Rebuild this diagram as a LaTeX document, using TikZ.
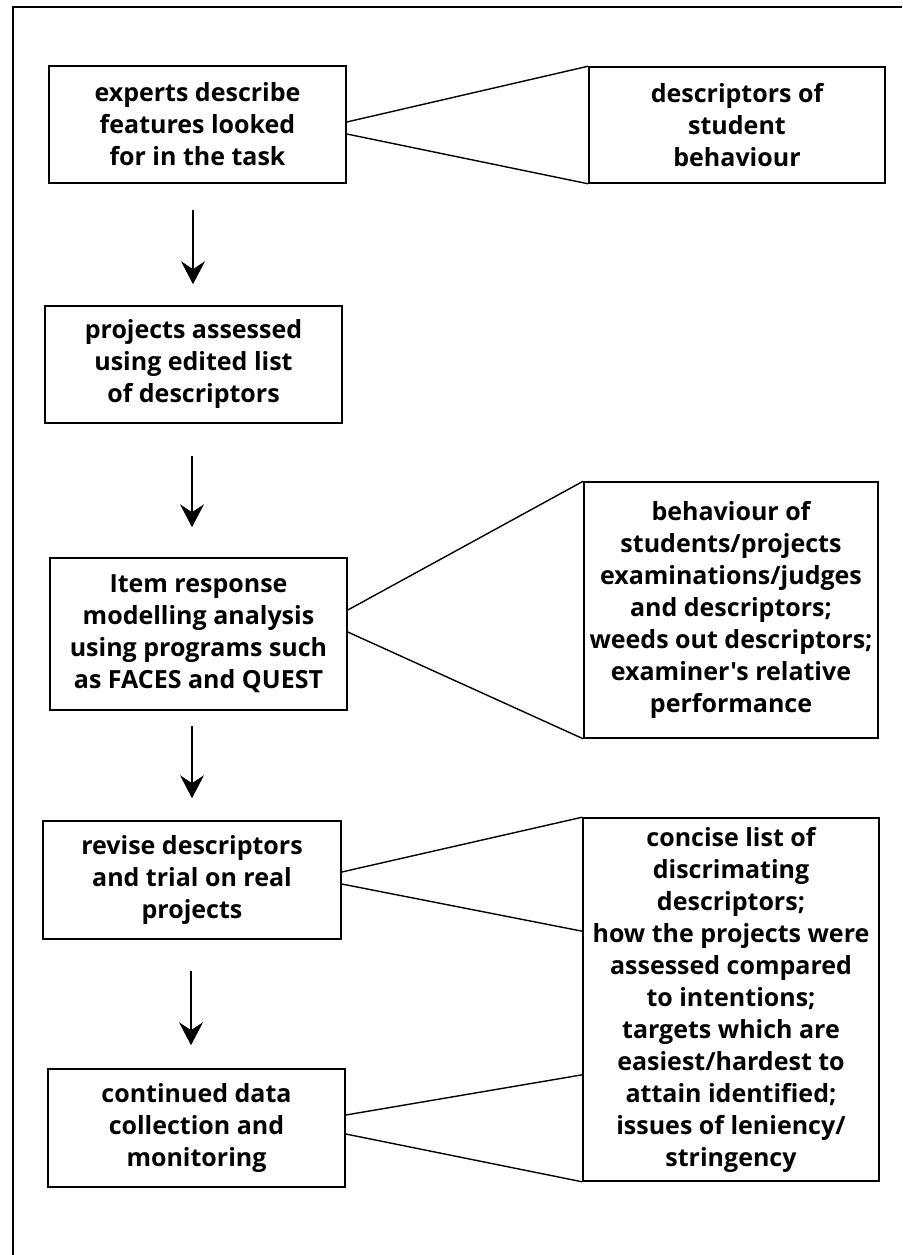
\documentclass[tikz,border=0pt]{standalone}
\usepackage{fontspec}
\setmainfont{Open Sans}[Ligatures=TeXOff]
\usetikzlibrary{calc,arrows.meta}
\begin{document}
\begin{tikzpicture}[x=1pt,y=-1pt,
  box/.style={draw=black, line width=1.6pt, align=center, inner sep=1pt,
    font=\bfseries\fontsize{25}{32}\selectfont},
  link/.style={draw=black, line width=1.4pt},
  flow/.style={draw=black, line width=1.3pt, -{Stealth[length=23pt,width=24pt,inset=8pt]}},
  frame/.style={draw=black, line width=1.8pt}]
\useasboundingbox (0,0) rectangle (902,1255);
% frame (top and left edges)
\coordinate (ftl) at (13,7);
\coordinate (ftr) at (902,7);
\coordinate (fbl) at (13,1255);
\draw[frame] (ftr) -- (ftl) -- (fbl);

% left column
\node[box, minimum width=297pt, minimum height=117pt] (b1) at (197.5,124.5)
  {experts describe\\features looked\\for in the task};
\node[box, minimum width=297pt, minimum height=117pt] (b2) at (193.5,364.5)
  {projects assessed\\using edited list\\of descriptors};
\node[box, minimum width=297pt, minimum height=152pt] (b3) at (198.5,634)
  {Item response\\modelling analysis\\using programs such\\as FACES and QUEST};
\node[box, minimum width=298pt, minimum height=118pt] (b4) at (192,880)
  {revise descriptors\\and trial on real\\projects};
\node[box, minimum width=297pt, minimum height=118pt] (b5) at (196.5,1128)
  {continued data\\collection and\\monitoring};

% right column
\node[box, minimum width=296pt, minimum height=116pt] (r1) at (737,125)
  {descriptors of\\student\\behaviour};
\node[box, minimum width=294pt, minimum height=256pt] (r3) at (731,610)
  {behaviour of\\students/projects\\examinations/judges\\and descriptors;\\weeds out descriptors;\\examiner's relative\\performance};
\node[box, minimum width=296pt, minimum height=363pt] (r4) at (731,999.5)
  {concise list of\\discrimating\\descriptors;\\how the projects were\\assessed compared\\to intentions;\\targets which are\\easiest/hardest to\\attain identified;\\issues of leniency/\\stringency};

% flow arrows
\draw[flow] ($(b1.south)+(-4.5,26)$) -- ($(b2.north)+(-0.5,-21)$);
\draw[flow] ($(b2.south)+(-1.5,32)$) -- ($(b3.north)+(-6.5,-30)$);
\draw[flow] ($(b3.south)+(-6.5,15)$) -- ($(b4.north)+(0,-22)$);
\draw[flow] ($(b4.south)+(-1,31)$) -- ($(b5.north)+(-5.5,-23)$);

% fan connectors
\draw[link] ([yshift=2.5pt]b1.east) -- (r1.north west);
\draw[link] ([yshift=-9.5pt]b1.east) -- (r1.south west);
\draw[link] ([yshift=24pt]b3.east) -- (r3.north west);
\draw[link] ([yshift=2pt]b3.east) -- (r3.south west);
\draw[link] ([yshift=8pt]b4.east) -- (r4.north west);
\draw[link] ([yshift=-4pt]b4.east) -- ($(r4.north west)+(0,114)$);
\draw[link] ([yshift=13pt]b5.east) -- ($(r4.south west)+(0,-107)$);
\draw[link] ([yshift=-6pt]b5.east) -- (r4.south west);
\end{tikzpicture}
\end{document}
